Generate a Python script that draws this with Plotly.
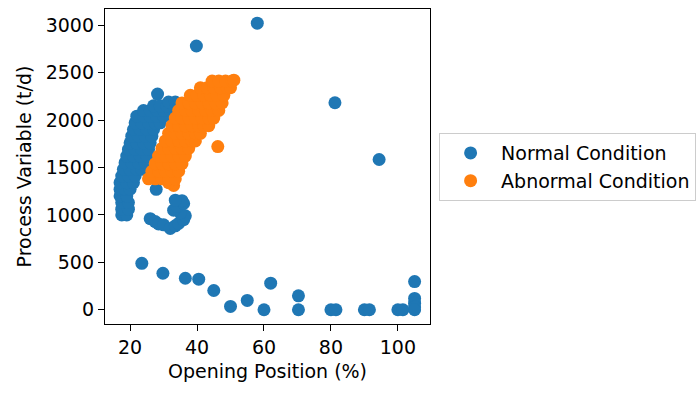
import plotly.graph_objects as go

# Normal operating condition: dense band, small lower cluster and scattered outliers
normal_x = [
    17.5, 19,
    17.5, 19.5,
    17.5, 19.5,
    17, 19,
    17, 18.5, 20,
    17, 19, 21,
    17.5, 19.5, 21.5,
    18, 20, 22, 23.5,
    18.5, 20.5, 22.5, 24.5,
    19, 21, 23, 25,
    19.5, 21.5, 23.5, 25.5,
    20, 22, 24, 26,
    20.5, 22.5, 24.5, 26.5,
    21, 23, 25, 27,
    21.5, 23.5, 25.5, 27.5, 29,
    22, 24, 26, 28, 30, 32,
    24, 26, 28, 30, 32, 34,
    27, 29, 31, 33, 35,
    31.5, 33.5,
    28.2,
    27.8, 26, 27.5, 28.5, 30, 32, 33.5, 34.5, 36, 36.5, 35, 33, 34, 36, 35.5, 33.5,
    58, 39.8, 81.2, 94.4,
    23.5, 29.8, 36.5, 40.5, 45, 50, 55, 60, 62, 70.3, 70.3,
    80, 81.5, 90, 91.5, 100, 101.5, 105, 105, 105, 105, 105,
]
normal_y = [
    1000, 1000,
    1060, 1060,
    1130, 1130,
    1200, 1200,
    1270, 1270, 1270,
    1340, 1340, 1340,
    1410, 1410, 1410,
    1480, 1480, 1480, 1480,
    1550, 1550, 1550, 1550,
    1620, 1620, 1620, 1620,
    1690, 1690, 1690, 1690,
    1760, 1760, 1760, 1760,
    1830, 1830, 1830, 1830,
    1900, 1900, 1900, 1900,
    1970, 1970, 1970, 1970, 1970,
    2040, 2040, 2040, 2040, 2040, 2040,
    2100, 2100, 2100, 2100, 2100, 2100,
    2150, 2150, 2150, 2150, 2150,
    2190, 2190,
    2273,
    1269, 960, 930, 905, 895, 857, 885, 910, 950, 990, 1020, 1050, 1090, 1120, 1150, 1155,
    3021, 2780, 2182, 1584,
    490, 385, 332, 322, 203, 35, 98, 0, 280, 147, 0,
    0, 0, 0, 0, 0, 0, 297, 120, 70, 30, 0,
]

# Abnormal condition: band shifted to larger openings
abnormal_x = [
    33, 31.5,
    25.5, 27.5, 29.5, 31.5, 33.5,
    26.5, 28.5, 30.5, 32.5, 34.5,
    27.5, 29.5, 31.5, 33.5, 35.5,
    28.5, 30.5, 32.5, 34.5, 36.5,
    29.5, 31.5, 33.5, 35.5, 37.5,
    30.5, 32.5, 34.5, 36.5, 38.5, 39.5,
    31.5, 33.5, 35.5, 37.5, 39.5, 41,
    32.5, 34.5, 36.5, 38.5, 40.5, 42, 43.5,
    33.5, 35.5, 37.5, 39.5, 41.5, 43.5, 45,
    34.5, 36.5, 38.5, 40.5, 42.5, 44.5, 46.5,
    35.5, 37.5, 39.5, 41.5, 43.5, 45.5, 47.5,
    38, 40, 42, 44, 46, 48,
    41, 43, 45, 47, 49, 50,
    44.5, 46.5, 48.5, 50.5, 51,
    46.2,
]
abnormal_y = [
    1310, 1340,
    1380, 1380, 1380, 1380, 1380,
    1460, 1460, 1460, 1460, 1460,
    1540, 1540, 1540, 1540, 1540,
    1620, 1620, 1620, 1620, 1620,
    1700, 1700, 1700, 1700, 1700,
    1780, 1780, 1780, 1780, 1780, 1780,
    1860, 1860, 1860, 1860, 1860, 1860,
    1940, 1940, 1940, 1940, 1940, 1940, 1940,
    2020, 2020, 2020, 2020, 2020, 2020, 2020,
    2100, 2100, 2100, 2100, 2100, 2100, 2100,
    2180, 2180, 2180, 2180, 2180, 2180, 2180,
    2260, 2260, 2260, 2260, 2260, 2260,
    2340, 2340, 2340, 2340, 2340, 2340,
    2410, 2410, 2410, 2410, 2420,
    1720,
]

x_ticks = [20, 40, 60, 80, 100]
y_ticks = [0, 500, 1000, 1500, 2000, 2500, 3000]

FONT = "DejaVu Sans"
FS = 19

fig = go.Figure()
fig.add_trace(go.Scatter(
    x=normal_x, y=normal_y, mode="markers", name="Normal Condition",
    marker=dict(color="#1f77b4", size=13, line=dict(width=0)),
    legendgroup="normal",
))
fig.add_trace(go.Scatter(
    x=abnormal_x, y=abnormal_y, mode="markers", name="Abnormal Condition",
    marker=dict(color="#ff7f0e", size=13, line=dict(width=0)),
    legendgroup="abnormal",
))

axis_common = dict(
    showline=True, mirror=True, linecolor="black", linewidth=1.3,
    ticks="outside", ticklen=6, tickwidth=1.3, tickcolor="black",
    showgrid=False, zeroline=False,
    tickfont=dict(family=FONT, size=FS, color="black"),
)

fig.update_layout(
    width=699, height=394,
    margin=dict(l=105, r=269, t=9, b=70, autoexpand=False),
    plot_bgcolor="white", paper_bgcolor="white",
    font=dict(family=FONT, size=FS, color="black"),
    xaxis=dict(
        range=[12.5, 109.6], tickvals=x_ticks,
        title=dict(text="Opening Position (%)", font=dict(family=FONT, size=FS), standoff=7),
        **axis_common,
    ),
    yaxis=dict(
        range=[-150, 3170], tickvals=y_ticks,
        title=dict(text="Process Variable (t/d)", font=dict(family=FONT, size=FS), standoff=9),
        **axis_common,
    ),
    legend=dict(
        x=1.028, y=0.606, xanchor="left", yanchor="top",
        bgcolor="white", bordercolor="#cccccc", borderwidth=1,
        font=dict(family=FONT, size=FS, color="black"),
        tracegroupgap=0, itemwidth=51,
    ),
    showlegend=True,
)

fig.write_html("out.html")
